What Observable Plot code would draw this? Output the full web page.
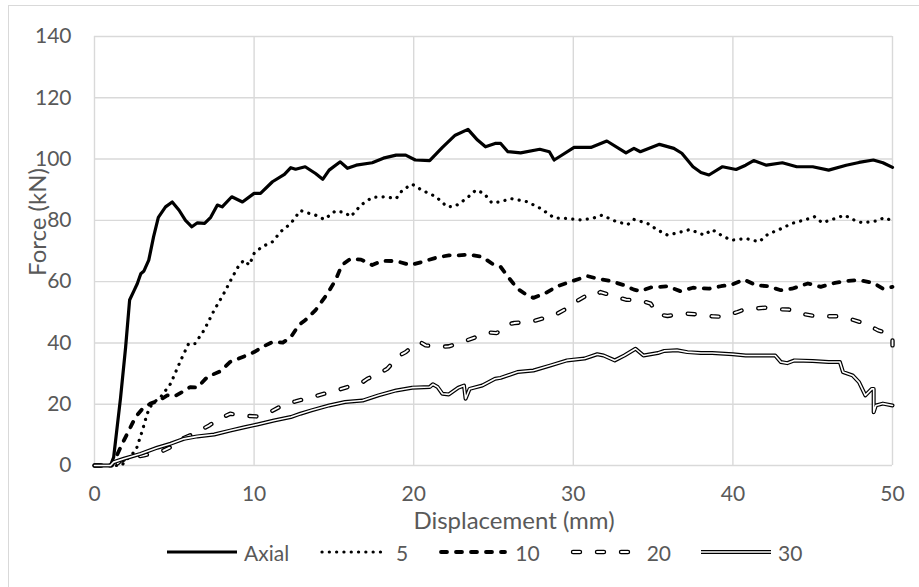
<!DOCTYPE html>
<html>
<head>
<meta charset="utf-8">
<script src="https://cdn.jsdelivr.net/npm/d3@7"></script>
<script src="https://cdn.jsdelivr.net/npm/@observablehq/plot@0.6"></script>
<style>
  html, body { margin: 0; padding: 0; background: #fff; overflow: hidden; }
  #wrap { position: relative; width: 919px; height: 587px; font-family: Lato, "Open Sans", sans-serif; color: #595959; }
  #frame { position: absolute; left: 8px; top: 5px; width: 940px; height: 600px; border: 1.5px solid #d9d9d9; box-sizing: border-box; }
  #chart { position: absolute; left: 0; top: 0; }
  .title { position: absolute; font-size: 24px; line-height: 0.8; white-space: nowrap; }
  #xtitle { left: 514px; top: 510px; transform: translateX(-50%); }
  #ytitle { left: 37px; top: 222px; transform: translate(-50%, -50%) rotate(-90deg); }
  #legend { position: absolute; left: 167px; top: 540px; height: 24px; display: flex; align-items: center; gap: 30px; font-size: 21px; line-height: 1; }
  #legend .item { display: flex; align-items: center; gap: 7px; }
  #legend svg { display: block; }
</style>
</head>
<body>
<div id="wrap">
  <div id="frame"></div>
  <div id="chart"></div>
  <div id="xtitle" class="title">Displacement (mm)</div>
  <div id="ytitle" class="title">Force (kN)</div>
  <div id="legend"></div>
</div>
<script>
const xTicks = [0, 10, 20, 30, 40, 50];
const yTicks = [0, 20, 40, 60, 80, 100, 120, 140];
const seriesNames = ["Axial", "5", "10", "20", "30"];

const axialData = [[0,0],[1.0,0],[1.2,2.7],[1.63,22],[1.95,38.6],[2.2,54],[2.47,57],[2.68,59.3],[2.9,62.6],[3.1,63.5],[3.4,67],[3.7,74.6],[4.0,81],[4.45,84.4],[4.87,86],[5.3,83.3],[5.7,80],[6.1,77.9],[6.45,79.2],[6.9,79],[7.28,81],[7.7,85],[8.0,84.4],[8.6,87.7],[9.27,86],[10,88.8],[10.4,88.8],[11.15,92.6],[11.9,95],[12.3,97.2],[12.6,96.7],[13.2,97.5],[13.85,95.3],[14.3,93.4],[14.7,96.4],[15.4,99.1],[15.85,97],[16.4,98],[17.4,98.8],[18.1,100.3],[18.9,101.3],[19.5,101.3],[20.1,99.7],[21.0,99.5],[21.8,103.8],[22.6,107.8],[23.4,109.7],[24.0,106.2],[24.5,104],[25.1,105.1],[25.45,105.1],[25.9,102.4],[26.7,102],[27.9,103.2],[28.5,102.4],[28.8,99.7],[29.2,101],[30.05,103.8],[31.1,103.8],[32.1,105.9],[33.3,102],[33.8,103.5],[34.2,102.4],[35.4,104.8],[36.3,103.5],[36.8,101.9],[37.5,97.5],[38.0,95.6],[38.5,94.8],[39.35,97.5],[40.2,96.6],[40.8,98],[41.3,99.5],[42.1,98],[43.1,98.8],[44.0,97.5],[45.0,97.5],[46.0,96.4],[47.1,98],[47.9,98.9],[48.8,99.7],[49.4,98.8],[50,97.3]];

const s5Data = [[0,0],[1.7,0],[1.95,1.6],[2.6,5],[3.0,11.4],[3.3,16.9],[3.6,20.1],[4.14,22.3],[4.77,26.7],[5.4,34.3],[5.9,39.8],[6.3,39.8],[6.86,44.1],[7.5,50.7],[8.1,56.1],[8.64,61.5],[9.06,65.4],[9.37,67],[9.7,65.4],[10,69.2],[10.5,71.4],[11.15,73],[11.67,76.3],[12.3,79],[12.9,83.2],[13.3,82.5],[13.85,81.7],[14.4,80.3],[15.1,83.1],[15.7,82.5],[16.05,81.2],[16.7,85],[17.4,87.5],[18.2,87.7],[18.9,87.1],[19.3,89.9],[19.9,91.8],[20.5,89.9],[21.4,87.7],[22.1,84.4],[22.6,84.6],[23.3,87.1],[23.9,89.9],[24.4,88.8],[24.9,85.7],[25.45,86.1],[26.1,87.1],[27.1,86.1],[27.95,83.9],[28.8,80.8],[29.6,80.6],[30.5,80.1],[31.3,80.8],[31.8,81.7],[32.6,79.8],[33.4,78.6],[33.8,80.3],[34.65,79],[35.3,76.8],[35.9,75.2],[36.5,75.9],[37.3,77],[38.2,75.2],[38.7,77],[39.25,75.2],[39.9,73.5],[40.8,74.1],[41.65,73],[42.2,75.5],[42.9,77],[43.7,79],[44.6,80.3],[45.1,81.2],[45.6,79.2],[46.4,80.6],[47.0,81.7],[47.5,80.3],[48.1,79.2],[49.0,79.8],[49.5,80.9],[50,79.8]];

const s10Data = [[0,0],[1.1,0],[1.3,2.2],[1.74,7.1],[2.15,11.4],[2.57,15.8],[3.0,18.5],[3.5,20.2],[4.04,21.2],[4.56,22.9],[4.98,22.5],[5.5,24],[6.0,25.6],[6.44,25.4],[7.07,28.9],[7.9,30.8],[8.5,33.8],[9.37,35.6],[10,37],[10.6,38.9],[11.15,40.3],[11.8,40.1],[12.3,41.9],[12.8,45.8],[13.2,47.4],[13.85,50.7],[14.6,56.1],[15.1,60.5],[15.5,65.4],[16.05,67.5],[16.7,67.2],[17.4,65.4],[18.0,66.8],[18.9,66.7],[19.8,65.4],[20.5,66.4],[21.4,67.8],[22.2,68.6],[22.8,68.6],[23.5,68.8],[24.3,68.1],[24.9,65.9],[25.45,64.8],[26,61],[26.5,57.7],[27.1,55.6],[27.5,54.7],[28.2,56.1],[29,58.5],[29.95,60.2],[30.9,61.8],[31.5,61],[32.35,60.2],[33.2,58.8],[33.8,57.4],[34.2,56.9],[34.85,58.1],[35.9,58.5],[36.7,56.9],[37.5,58],[38.5,57.7],[39.25,58.5],[39.9,59],[40.7,60.7],[41.45,58.8],[42.2,58.5],[43,57.2],[43.7,57.7],[44.7,59.4],[45.5,58.3],[46.4,59.6],[47.1,60.2],[47.9,60.5],[48.8,59.6],[49.4,57.7],[50,58.3]];

const s20Data = [[0,0],[1.3,0],[1.63,1.6],[2.47,2.7],[3.1,3.3],[4.25,4.7],[4.77,6],[5.6,9],[6.13,10.1],[7.2,13.1],[7.7,14.9],[8.5,16.9],[9.16,16.3],[10.2,16],[10.8,16.9],[12.0,20.2],[12.6,20.9],[13.6,22.3],[15.3,24.7],[16.8,27.2],[17.1,28.3],[18.0,30.5],[18.35,31.6],[19.1,35.9],[19.5,37],[20.0,39.2],[20.4,40.3],[20.75,39.2],[21.6,38.7],[22.2,38.9],[23.05,40.3],[23.9,41.9],[24.7,43.4],[25.2,43.2],[25.9,46.1],[26.3,46.5],[27.1,46.8],[27.5,47.1],[28.3,48.3],[28.8,49],[29.75,51.7],[30.3,53.9],[31.1,56.3],[31.5,55.9],[31.7,56.6],[32.7,55],[33.3,54.1],[34.2,53.9],[34.85,52.8],[35.3,49.3],[35.9,48.8],[36.95,49.6],[37.8,49.3],[38.7,48.7],[39.35,48.5],[40.3,50.1],[40.7,50.9],[42,51.5],[42.6,51],[43.5,50.9],[44.2,49.6],[45.2,48.7],[45.8,48.7],[46.7,48.7],[47.3,47.9],[48.3,46.3],[49.1,44.1],[49.8,43],[50,42.5],[50,39.2]];

const s30Data = [[0,0],[1.0,0],[1.2,1.1],[1.84,2.2],[2.89,3.8],[3.93,5.8],[4.77,7.1],[5.6,8.7],[6.44,9.5],[7.5,10.1],[8.5,11.4],[9.4,12.5],[10.2,13.4],[11.25,14.7],[12.3,15.8],[12.9,16.9],[13.6,18],[14.7,19.6],[15.7,20.7],[16.8,21.2],[17.8,22.9],[18.9,24.5],[19.9,25.4],[21.0,25.6],[21.2,26.5],[21.5,25.6],[21.8,23.4],[22.2,23.2],[22.8,25.4],[23.15,26.1],[23.25,21.8],[23.5,25],[24.3,26.1],[25.1,28.3],[25.45,28.6],[26.5,30.5],[27.5,31],[28.6,32.7],[29.6,34.3],[30.7,34.9],[31.5,36.3],[31.9,35.9],[32.6,34.3],[33.2,35.9],[33.9,38.1],[34.4,35.9],[35.3,36.7],[35.7,37.4],[36.5,37.6],[37.15,37],[38.0,36.7],[38.7,36.7],[40,36.3],[40.8,35.9],[41.9,35.9],[42.65,35.9],[43.0,33.8],[43.4,33.4],[43.85,34.3],[45,34.1],[46,33.8],[46.7,33.8],[46.9,30.5],[47.5,29.4],[47.9,27.2],[48.3,22.9],[48.7,25],[48.82,25],[48.82,17.4],[48.96,19.6],[49.4,20.2],[50,19.6]];

// Line styles (Excel-like)
const styles = {
  "Axial": [{stroke: "#000", strokeWidth: 3.2}],
  "5":     [{stroke: "#000", strokeWidth: 3.2, strokeDasharray: "0.1,7.2", strokeLinecap: "round"}],
  "10":    [{stroke: "#000", strokeWidth: 3.8, strokeDasharray: "6,9", strokeLinecap: "round"}],
  "20":    [{stroke: "#000", strokeWidth: 4.4, strokeDasharray: "7,17", strokeLinecap: "round"},
            {stroke: "#fff", strokeWidth: 1.8, strokeDasharray: "7,17", strokeLinecap: "round"}],
  "30":    [{stroke: "#000", strokeWidth: 4.0},
            {stroke: "#fff", strokeWidth: 1.6}]
};
const dataByName = {"Axial": axialData, "5": s5Data, "10": s10Data, "20": s20Data, "30": s30Data};

const lineMarks = [];
for (const name of seriesNames) {
  for (const st of styles[name]) {
    lineMarks.push(Plot.line(dataByName[name], {x: d => d[0], y: d => d[1], strokeLinejoin: "round", ...st}));
  }
}

const chart = Plot.plot({
  width: 919,
  height: 540,
  marginLeft: 94,
  marginRight: 27,
  marginTop: 36,
  marginBottom: 75,
  style: {fontFamily: "Lato, 'Open Sans', sans-serif", fontSize: "21px", color: "#595959", background: "transparent", overflow: "visible"},
  x: {domain: [0, 50]},
  y: {domain: [0, 140]},
  marks: [
    Plot.gridX(xTicks, {stroke: "#d9d9d9", strokeOpacity: 1, strokeWidth: 1.4}),
    Plot.gridY(yTicks, {stroke: "#d9d9d9", strokeOpacity: 1, strokeWidth: 1.4}),
    Plot.axisX(xTicks, {tickSize: 0, tickPadding: 21, label: null, tickFormat: d => String(d)}),
    Plot.axisY(yTicks, {tickSize: 0, tickPadding: 23, label: null, tickFormat: d => String(d)}),
    ...lineMarks
  ]
});
document.getElementById("chart").appendChild(chart);

// Legend
const legend = document.getElementById("legend");
for (const name of seriesNames) {
  const item = document.createElement("div");
  item.className = "item";
  const ns = "http://www.w3.org/2000/svg";
  const svg = document.createElementNS(ns, "svg");
  svg.setAttribute("width", "70");
  svg.setAttribute("height", "12");
  for (const st of styles[name]) {
    const ln = document.createElementNS(ns, "line");
    ln.setAttribute("x1", name === "Axial" || name === "30" ? 0 : 3);
    ln.setAttribute("x2", name === "Axial" || name === "30" ? 70 : 67);
    ln.setAttribute("y1", 6);
    ln.setAttribute("y2", 6);
    ln.setAttribute("stroke", st.stroke);
    ln.setAttribute("stroke-width", st.strokeWidth);
    if (st.strokeDasharray) ln.setAttribute("stroke-dasharray", st.strokeDasharray);
    if (st.strokeLinecap) ln.setAttribute("stroke-linecap", st.strokeLinecap);
    svg.appendChild(ln);
  }
  const label = document.createElement("span");
  label.textContent = name;
  item.appendChild(svg);
  item.appendChild(label);
  legend.appendChild(item);
}
</script>
</body>
</html>
